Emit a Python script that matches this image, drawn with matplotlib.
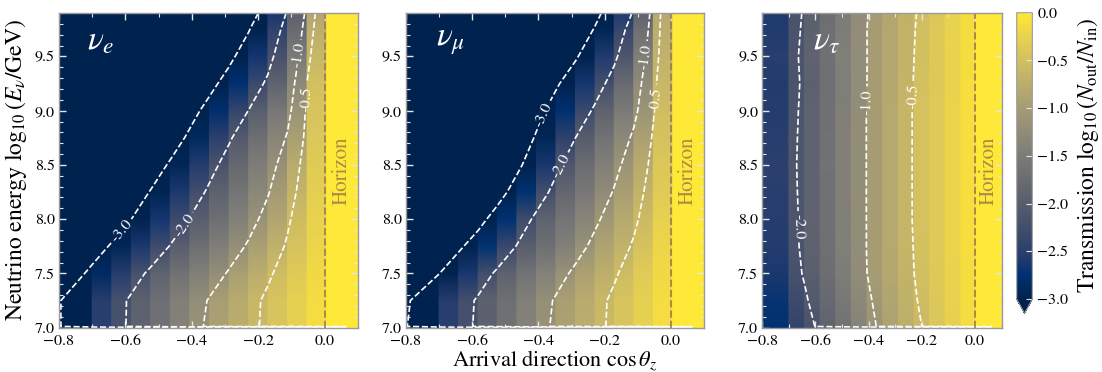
"""Earth transmission maps for nu_e, nu_mu, nu_tau (three panels + shared colorbar)."""

import matplotlib

matplotlib.use("Agg")
import matplotlib.pyplot as plt  # noqa: E402
import numpy as np  # noqa: E402
from matplotlib.cm import ScalarMappable  # noqa: E402
from matplotlib.colors import Normalize  # noqa: E402
from matplotlib.ticker import MultipleLocator  # noqa: E402

plt.rcParams["font.family"] = "STIXGeneral"
plt.rcParams["mathtext.fontset"] = "stix"

# cos(theta_z) bin edges; data points sit on the left edge of each bin
COS_EDGES = [-0.8, -0.7, -0.641, -0.582, -0.524, -0.465, -0.406, -0.347,
             -0.288, -0.229, -0.171, -0.112, -0.053, 0.006, 0.065, 0.1]
# log10(E/GeV) nodes
E_NODES = [7.0, 7.25, 7.5, 7.75, 8.0, 8.25, 8.5, 8.75, 9.0, 9.25, 9.5, 9.75, 9.9]

# log10(N_out/N_in), one row per energy node, one column per cos bin
TRANS_NUE = [
    [-3.03, -2.51, -2.21, -1.92, -1.67, -1.41, -1.15, -0.93, -0.76, -0.59, -0.43, -0.28, -0.13, 0.0, 0.0],
    [-3.03, -2.52, -2.21, -1.93, -1.69, -1.45, -1.21, -0.97, -0.79, -0.60, -0.44, -0.29, -0.14, 0.0, 0.0],
    [-3.44, -2.87, -2.54, -2.20, -1.91, -1.67, -1.44, -1.20, -0.96, -0.76, -0.55, -0.36, -0.17, 0.0, 0.0],
    [-3.60, -3.27, -2.94, -2.62, -2.30, -1.98, -1.72, -1.46, -1.20, -0.95, -0.70, -0.46, -0.22, 0.0, 0.0],
    [-3.60, -3.60, -3.34, -3.00, -2.66, -2.32, -1.98, -1.70, -1.42, -1.15, -0.86, -0.55, -0.26, 0.0, 0.0],
    [-3.60, -3.60, -3.60, -3.32, -2.97, -2.61, -2.26, -1.92, -1.62, -1.32, -1.03, -0.66, -0.30, 0.0, 0.0],
    [-3.60, -3.60, -3.60, -3.60, -3.32, -2.93, -2.55, -2.16, -1.81, -1.49, -1.18, -0.78, -0.34, 0.0, 0.0],
    [-3.60, -3.60, -3.60, -3.60, -3.60, -3.30, -2.89, -2.48, -2.06, -1.69, -1.34, -0.96, -0.40, 0.0, 0.0],
    [-3.60, -3.60, -3.60, -3.60, -3.60, -3.60, -3.21, -2.80, -2.40, -1.99, -1.56, -1.13, -0.44, 0.0, 0.0],
    [-3.60, -3.60, -3.60, -3.60, -3.60, -3.60, -3.60, -3.18, -2.76, -2.34, -1.90, -1.29, -0.49, 0.0, 0.0],
    [-3.60, -3.60, -3.60, -3.60, -3.60, -3.60, -3.60, -3.60, -3.15, -2.67, -2.20, -1.52, -0.61, 0.0, 0.0],
    [-3.60, -3.60, -3.60, -3.60, -3.60, -3.60, -3.60, -3.60, -3.60, -3.04, -2.45, -1.77, -0.75, 0.0, 0.0],
    [-3.60, -3.60, -3.60, -3.60, -3.60, -3.60, -3.60, -3.60, -3.60, -3.34, -2.66, -1.95, -0.86, 0.0, 0.0],
]
TRANS_NUMU = [
    [-3.02, -2.51, -2.21, -1.92, -1.67, -1.41, -1.15, -0.93, -0.76, -0.59, -0.43, -0.28, -0.13, 0.0, 0.0],
    [-3.07, -2.54, -2.23, -1.94, -1.69, -1.44, -1.19, -0.96, -0.78, -0.60, -0.44, -0.29, -0.14, 0.0, 0.0],
    [-3.60, -3.01, -2.63, -2.25, -1.92, -1.66, -1.41, -1.15, -0.92, -0.73, -0.54, -0.35, -0.17, 0.0, 0.0],
    [-3.60, -3.48, -3.10, -2.72, -2.35, -1.98, -1.70, -1.43, -1.15, -0.90, -0.68, -0.46, -0.22, 0.0, 0.0],
    [-3.60, -3.60, -3.60, -3.20, -2.75, -2.29, -1.90, -1.62, -1.35, -1.07, -0.82, -0.57, -0.28, 0.0, 0.0],
    [-3.60, -3.60, -3.60, -3.60, -3.25, -2.75, -2.25, -1.85, -1.56, -1.26, -0.97, -0.67, -0.34, 0.0, 0.0],
    [-3.60, -3.60, -3.60, -3.60, -3.60, -3.14, -2.63, -2.11, -1.75, -1.44, -1.12, -0.78, -0.40, 0.0, 0.0],
    [-3.60, -3.60, -3.60, -3.60, -3.60, -3.40, -2.94, -2.47, -2.00, -1.65, -1.30, -0.93, -0.46, 0.0, 0.0],
    [-3.60, -3.60, -3.60, -3.60, -3.60, -3.60, -3.19, -2.76, -2.34, -1.92, -1.52, -1.12, -0.53, 0.0, 0.0],
    [-3.60, -3.60, -3.60, -3.60, -3.60, -3.60, -3.50, -3.08, -2.66, -2.24, -1.79, -1.26, -0.60, 0.0, 0.0],
    [-3.60, -3.60, -3.60, -3.60, -3.60, -3.60, -3.60, -3.55, -3.07, -2.58, -2.11, -1.46, -0.69, 0.0, 0.0],
    [-3.60, -3.60, -3.60, -3.60, -3.60, -3.60, -3.60, -3.60, -3.52, -2.95, -2.39, -1.71, -0.76, 0.0, 0.0],
    [-3.60, -3.60, -3.60, -3.60, -3.60, -3.60, -3.60, -3.60, -3.60, -3.20, -2.59, -1.94, -0.80, 0.0, 0.0],
]
TRANS_NUTAU = [
    [-2.75, -2.44, -2.17, -1.91, -1.65, -1.39, -1.13, -0.91, -0.75, -0.58, -0.42, -0.28, -0.13, 0.0, 0.0],
    [-2.70, -2.31, -2.06, -1.80, -1.56, -1.31, -1.06, -0.87, -0.70, -0.53, -0.39, -0.26, -0.12, 0.0, 0.0],
    [-2.62, -2.20, -1.96, -1.72, -1.49, -1.25, -1.00, -0.83, -0.67, -0.50, -0.37, -0.24, -0.12, 0.0, 0.0],
    [-2.56, -2.15, -1.92, -1.69, -1.45, -1.22, -0.99, -0.82, -0.64, -0.49, -0.36, -0.23, -0.11, 0.0, 0.0],
    [-2.54, -2.14, -1.91, -1.68, -1.45, -1.22, -0.99, -0.82, -0.64, -0.48, -0.36, -0.23, -0.11, 0.0, 0.0],
    [-2.52, -2.12, -1.90, -1.67, -1.44, -1.21, -0.99, -0.82, -0.64, -0.48, -0.36, -0.23, -0.11, 0.0, 0.0],
    [-2.50, -2.11, -1.89, -1.66, -1.44, -1.21, -0.99, -0.82, -0.64, -0.48, -0.36, -0.23, -0.11, 0.0, 0.0],
    [-2.53, -2.12, -1.90, -1.67, -1.44, -1.21, -0.99, -0.82, -0.64, -0.48, -0.36, -0.23, -0.11, 0.0, 0.0],
    [-2.55, -2.14, -1.91, -1.68, -1.45, -1.22, -0.99, -0.82, -0.64, -0.48, -0.36, -0.23, -0.11, 0.0, 0.0],
    [-2.56, -2.16, -1.93, -1.69, -1.46, -1.23, -1.00, -0.83, -0.65, -0.49, -0.37, -0.24, -0.11, 0.0, 0.0],
    [-2.52, -2.14, -1.91, -1.68, -1.45, -1.22, -1.00, -0.84, -0.67, -0.50, -0.37, -0.24, -0.12, 0.0, 0.0],
    [-2.57, -2.17, -1.94, -1.71, -1.48, -1.24, -1.00, -0.84, -0.67, -0.51, -0.38, -0.25, -0.12, 0.0, 0.0],
    [-2.59, -2.19, -1.96, -1.72, -1.51, -1.25, -1.01, -0.85, -0.68, -0.52, -0.39, -0.25, -0.12, 0.0, 0.0],
]
# lowest-energy edge value (only enters the contour grid)
FLOOR_NUE = -3.5
FLOOR_NUMU = -3.5
FLOOR_NUTAU = -2.9

LEVELS = [-3.0, -2.0, -1.0, -0.5]
FLAVOURS = [r"$\nu_e$", r"$\nu_\mu$", r"$\nu_\tau$"]

CMAP = plt.get_cmap("cividis")
NORM = Normalize(vmin=-3.0, vmax=0.0)
TICK_COLOR = "#e6e6e6"
SPINE_COLOR = "#9a9a9a"
HORIZON_COLOR = "#9c7a48"


def _draw_panel(ax, field, floor, label, label_x, label_spots):
    z = np.asarray(field)
    for i in range(len(COS_EDGES) - 1):
        col = z[:, i]
        ax.pcolormesh([COS_EDGES[i], COS_EDGES[i + 1]], E_NODES,
                      np.column_stack([col, col]), shading="gouraud",
                      cmap=CMAP, norm=NORM, rasterized=True)

    # contours on the bin left edges, with a floor row at the bottom edge
    xc = np.asarray(COS_EDGES[:-1])
    yc = np.r_[E_NODES[0], E_NODES[0] + 0.012, E_NODES[1:]]
    zc = np.vstack([np.full(z.shape[1], floor), z])
    cs = ax.contour(xc, yc, zc, levels=LEVELS, colors="white",
                    linestyles="dashed", linewidths=1.2)
    ax.clabel(cs, manual=label_spots, fmt="%.1f", fontsize=11.5, inline=True,
              inline_spacing=3)

    ax.axvline(0.0, color=HORIZON_COLOR, ls="--", lw=1.4, alpha=0.85)
    ax.text(0.05, 8.45, "Horizon", rotation=90, ha="center", va="center",
            color=HORIZON_COLOR, fontsize=15, alpha=0.85)
    ax.text(label_x, 0.955, label, transform=ax.get_xaxis_transform(),
            ha="left", va="top", color="white", fontsize=24)

    ax.set_xlim(-0.8, 0.1)
    ax.set_ylim(7.0, 9.9)
    ax.set_xticks([-0.8, -0.6, -0.4, -0.2, 0.0])
    ax.xaxis.set_minor_locator(MultipleLocator(0.1))
    ax.yaxis.set_major_locator(MultipleLocator(0.5))
    ax.yaxis.set_minor_locator(MultipleLocator(0.1))
    ax.tick_params(which="both", direction="in", top=True, right=True,
                   color=TICK_COLOR, labelsize=11.5)
    ax.tick_params(axis="x", pad=5)
    ax.tick_params(axis="y", pad=3)
    ax.tick_params(which="major", length=5, width=1.0)
    ax.tick_params(which="minor", length=3, width=0.8)
    for sp in ax.spines.values():
        sp.set_color(SPINE_COLOR)
        sp.set_linewidth(1.0)


fig = plt.figure(figsize=(11.02, 3.72), dpi=100)
ax1 = fig.add_axes([0.0535, 0.1191, 0.2713, 0.846])
ax2 = fig.add_axes([0.3684, 0.1191, 0.2704, 0.846])
ax3 = fig.add_axes([0.6917, 0.1191, 0.2172, 0.846])
cax = fig.add_axes([0.9226, 0.1578, 0.0142, 0.808])

_draw_panel(ax1, TRANS_NUE, FLOOR_NUE, FLAVOURS[0], -0.715,
            [(-0.616, 7.90), (-0.431, 7.96), (-0.079, 9.51), (-0.062, 9.11)])
_draw_panel(ax2, TRANS_NUMU, FLOOR_NUMU, FLAVOURS[1], -0.71,
            [(-0.391, 8.97), (-0.321, 8.47), (-0.080, 9.50), (-0.060, 9.10)])
_draw_panel(ax3, TRANS_NUTAU, FLOOR_NUTAU, FLAVOURS[2], -0.61,
            [(-0.665, 7.93), (-0.415, 9.08), (-0.238, 9.13)])

ax1.set_ylabel(r"Neutrino energy $\log_{10}(E_\nu/\mathrm{GeV})$", fontsize=17,
               labelpad=4)
ax2.set_xlabel(r"Arrival direction $\cos\theta_z$", fontsize=16, labelpad=0)

cb = fig.colorbar(ScalarMappable(norm=NORM, cmap=CMAP), cax=cax, extend="min")
cb.set_ticks([0.0, -0.5, -1.0, -1.5, -2.0, -2.5, -3.0])
cb.ax.tick_params(direction="in", color=TICK_COLOR, labelsize=11.5, length=4)
cb.outline.set_edgecolor(SPINE_COLOR)
cb.set_label(r"Transmission $\log_{10}(N_\mathrm{out}/N_\mathrm{in})$",
             fontsize=17, labelpad=5)

fig.savefig("out.png", dpi=100)
